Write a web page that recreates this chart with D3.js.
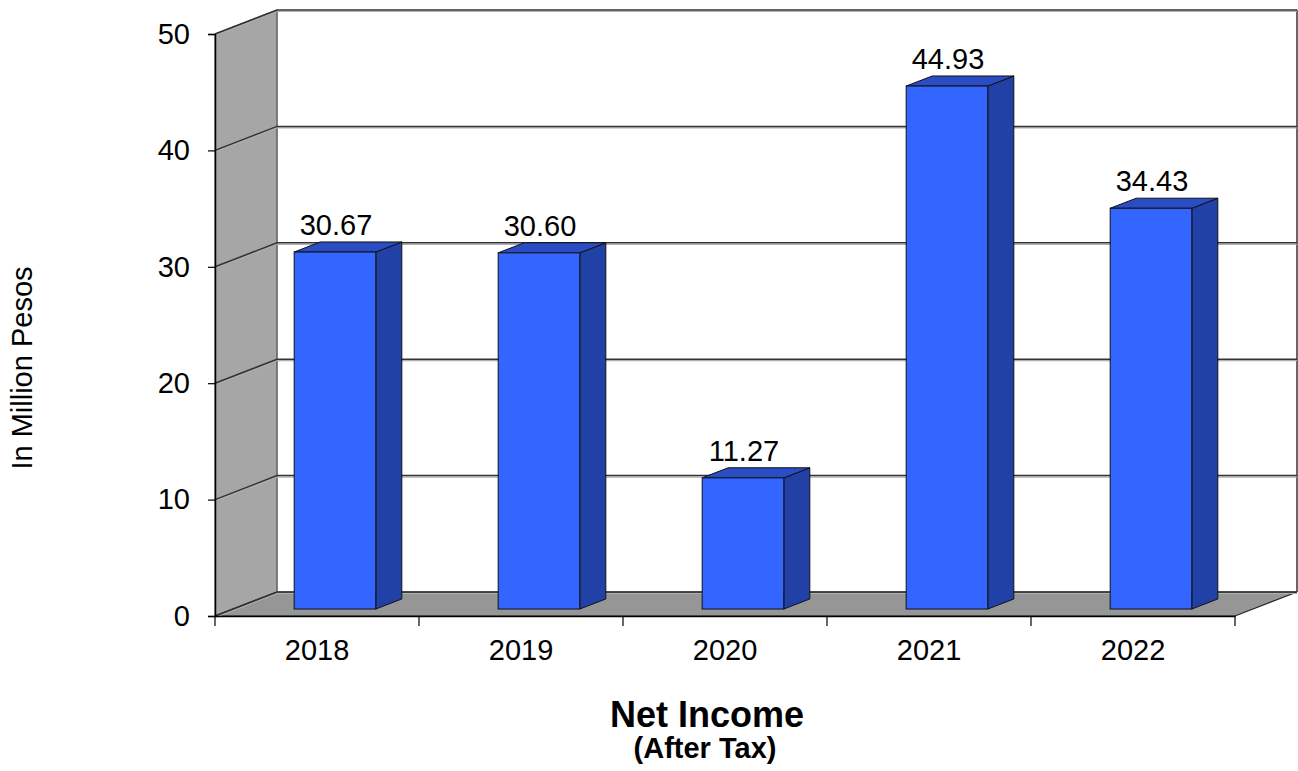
<!DOCTYPE html>
<html>
<head>
<meta charset="utf-8">
<script src="https://cdn.jsdelivr.net/npm/d3@7"></script>
<style>
  html, body { margin: 0; padding: 0; background: #fff; }
  svg { display: block; font-family: "Liberation Sans", Arial, sans-serif; }
</style>
</head>
<body>
<svg id="chart" width="1298" height="771"></svg>
<script>
// ---- Data ----
const categories = ["2018", "2019", "2020", "2021", "2022"];
const netIncome = [30.67, 30.60, 11.27, 44.93, 34.43];
const valueLabels = ["30.67", "30.60", "11.27", "44.93", "34.43"];
const yTicks = [0, 10, 20, 30, 40, 50];
const yTitle = "In Million Pesos";
const chartTitle = "Net Income";
const chartSubtitle = "(After Tax)";

// ---- Layout ----
const X0 = 215, X1 = 1235;      // front x-axis extent
const DX = 62, DY = -24;        // 3D depth offset
const F0 = 0.29, F1 = 0.71;     // bar front/back depth fractions

const svg = d3.select("#chart");

const x = d3.scaleBand().domain(categories).range([X0, X1]).paddingInner(0).paddingOuter(0);
const y = d3.scaleLinear().domain([0, 50]).range([616, 34]);

const bw = x.bandwidth();
const barW = bw * 0.4;
const barOff = bw * 0.3;

const pts = a => a.map(p => p.join(",")).join(" ");

// Back wall
svg.append("polygon")
  .attr("points", pts([[X0 + DX, y(50) + DY], [X1 + DX, y(50) + DY], [X1 + DX, y(0) + DY], [X0 + DX, y(0) + DY]]))
  .attr("fill", "#ffffff");

// Left wall
svg.append("polygon")
  .attr("points", pts([[X0, y(0)], [X0, y(50)], [X0 + DX, y(50) + DY], [X0 + DX, y(0) + DY]]))
  .attr("fill", "#a6a6a6")
  .attr("stroke", "#333").attr("stroke-width", 1);

// Floor
svg.append("polygon")
  .attr("points", pts([[X0, y(0)], [X1, y(0)], [X1 + DX, y(0) + DY], [X0 + DX, y(0) + DY]]))
  .attr("fill", "#969696")
  .attr("stroke", "#222").attr("stroke-width", 1.2);

// Back wall inner corner vertical & right edge
svg.append("line")
  .attr("x1", X0 + DX).attr("x2", X0 + DX)
  .attr("y1", y(50) + DY).attr("y2", y(0) + DY)
  .attr("stroke", "#777").attr("stroke-width", 1.5);
svg.append("line")
  .attr("x1", X1 + DX).attr("x2", X1 + DX)
  .attr("y1", y(50) + DY).attr("y2", y(0) + DY)
  .attr("stroke", "#333").attr("stroke-width", 1.5);

// Gridlines (left wall + back wall), with a light shadow
svg.append("g").selectAll("polyline")
  .data(yTicks)
  .join("polyline")
  .attr("points", d => pts([[X0, y(d) + 1.5], [X0 + DX, y(d) + DY + 1.5], [X1 + DX, y(d) + DY + 1.5]]))
  .attr("fill", "none")
  .attr("stroke", "#b0b0b0")
  .attr("stroke-width", 1.2);
svg.append("g").selectAll("polyline")
  .data(yTicks)
  .join("polyline")
  .attr("points", d => pts([[X0, y(d)], [X0 + DX, y(d) + DY], [X1 + DX, y(d) + DY]]))
  .attr("fill", "none")
  .attr("stroke", "#333")
  .attr("stroke-width", 1.5);

// Bars
const bars = svg.append("g").selectAll("g")
  .data(categories.map((c, i) => ({ c, v: netIncome[i], label: valueLabels[i] })))
  .join("g");

bars.each(function (d) {
  const g = d3.select(this);
  const xl = x(d.c) + barOff;
  const xr = xl + barW;
  const fx = F0 * DX, fy = F0 * DY;
  const bx = F1 * DX, by = F1 * DY;
  const yt = y(d.v), yb = y(0);
  // side
  g.append("polygon")
    .attr("points", pts([[xr + fx, yt + fy], [xr + bx, yt + by], [xr + bx, yb + by], [xr + fx, yb + fy]]))
    .attr("fill", "#2141a6").attr("stroke", "#111").attr("stroke-width", 1);
  // top
  g.append("polygon")
    .attr("points", pts([[xl + fx, yt + fy], [xr + fx, yt + fy], [xr + bx, yt + by], [xl + bx, yt + by]]))
    .attr("fill", "#2a4cc4").attr("stroke", "#111").attr("stroke-width", 1);
  // front
  g.append("rect")
    .attr("x", xl + fx).attr("y", yt + fy)
    .attr("width", barW).attr("height", yb - yt)
    .attr("fill", "#3366ff").attr("stroke", "#111").attr("stroke-width", 1);
  // value label
  g.append("text")
    .attr("x", xl + fx + barW / 2 + 1)
    .attr("y", yt + by - 7)
    .attr("text-anchor", "middle")
    .attr("font-size", 29)
    .attr("fill", "#000")
    .text(d.label);
});

// Y axis
const yAxis = d3.axisLeft(y).tickValues(yTicks).tickSize(7).tickPadding(18).tickFormat(d3.format("d"));
const gy = svg.append("g").attr("transform", `translate(${X0},0)`).call(yAxis);
gy.select(".domain").attr("stroke", "#000").attr("stroke-width", 1.5);
gy.selectAll(".tick line").attr("stroke", "#000").attr("stroke-width", 1.2);
gy.selectAll(".tick text").attr("font-size", 29).attr("font-family", "Liberation Sans, Arial, sans-serif").attr("fill", "#000");

// X axis
const xAxis = d3.axisBottom(x).tickSize(0).tickPadding(23);
const gx = svg.append("g").attr("transform", `translate(0,${y(0)})`).call(xAxis);
gx.select(".domain").attr("stroke", "#000").attr("stroke-width", 1.5);
gx.selectAll(".tick text").attr("font-size", 29).attr("font-family", "Liberation Sans, Arial, sans-serif").attr("fill", "#000");
// category boundary ticks
const bounds = categories.map(c => x(c)).concat([X1]);
gx.selectAll(".bound").data(bounds).join("line")
  .attr("class", "bound")
  .attr("x1", d => d).attr("x2", d => d)
  .attr("y1", 0).attr("y2", 10)
  .attr("stroke", "#000").attr("stroke-width", 1.2);

// Y title
svg.append("text")
  .attr("transform", "translate(32,368) rotate(-90)")
  .attr("text-anchor", "middle")
  .attr("font-size", 29)
  .attr("fill", "#000")
  .text(yTitle);

// Title
svg.append("text")
  .attr("x", 707).attr("y", 727)
  .attr("text-anchor", "middle")
  .attr("font-size", 36).attr("font-weight", "bold")
  .attr("fill", "#000")
  .text(chartTitle);
svg.append("text")
  .attr("x", 705).attr("y", 758)
  .attr("text-anchor", "middle")
  .attr("font-size", 29).attr("font-weight", "bold")
  .attr("fill", "#000")
  .text(chartSubtitle);
</script>
</body>
</html>
